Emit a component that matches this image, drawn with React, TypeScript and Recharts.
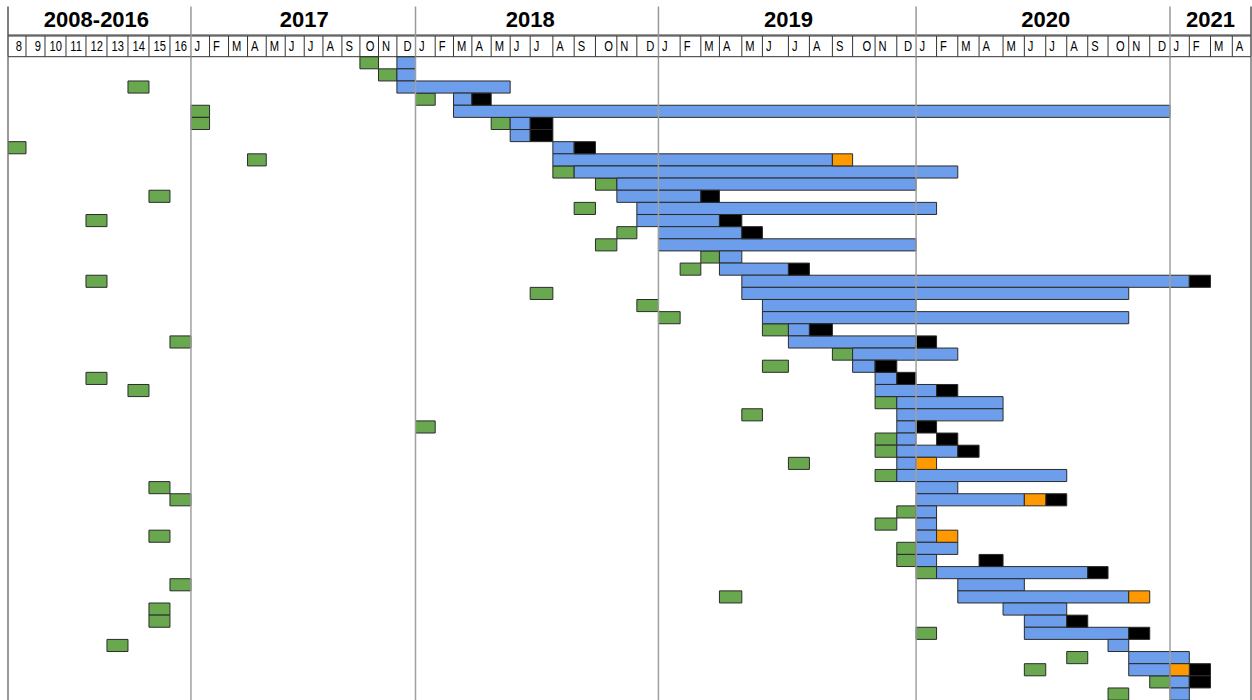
import React from 'react';
import { BarChart, Bar, XAxis, YAxis, ReferenceLine } from 'recharts';

type Span = [number, string, string?];

// header labels
const yearBlocks = ['2008-2016', '2017', '2018', '2019', '2020', '2021'];
const blockColumns = [9, 12, 12, 12, 12, 4];
const earlyYears = ['8', '9', '10', '11', '12', '13', '14', '15', '16'];
const monthLetters = ['J', 'F', 'M', 'A', 'M', 'J', 'J', 'A', 'S', 'O', 'N', 'D'];

const ROWS = 53;

// [row, first month, last month] — years before 2017 are one column each
const green: Span[] = [
  [0, '2017-10'], [1, '2017-11'], [2, '2014'], [3, '2018-01'], [4, '2017-01'],
  [5, '2017-01'], [5, '2018-05'], [7, '2008'], [8, '2017-04'], [9, '2018-08'],
  [10, '2018-10'], [11, '2015'], [12, '2018-09'], [13, '2012'], [14, '2018-11'],
  [15, '2018-10'], [16, '2019-03'], [17, '2019-02'], [18, '2012'], [19, '2018-07'],
  [20, '2018-12'], [21, '2019-01'], [22, '2019-06'], [23, '2016'], [24, '2019-09'],
  [25, '2019-06'], [26, '2012'], [27, '2014'], [28, '2019-11'], [29, '2019-05'],
  [30, '2018-01'], [31, '2019-11'], [32, '2019-11'], [33, '2019-07'], [34, '2019-11'],
  [35, '2015'], [36, '2016'], [37, '2019-12'], [38, '2019-11'], [39, '2015'],
  [40, '2019-12'], [41, '2019-12'], [42, '2020-01'], [43, '2016'], [44, '2019-04'],
  [45, '2015'], [46, '2015'], [47, '2020-01'], [48, '2013'], [49, '2020-08'],
  [50, '2020-06'], [51, '2020-12'], [52, '2020-10'],
];

const blue: Span[] = [
  [0, '2017-12'], [1, '2017-12'], [2, '2017-12', '2018-05'], [3, '2018-03'],
  [4, '2018-03', '2020-12'], [5, '2018-06'], [6, '2018-06'], [7, '2018-08'],
  [8, '2018-08', '2019-08'], [9, '2018-09', '2020-02'], [10, '2018-11', '2019-12'],
  [11, '2018-11', '2019-02'], [12, '2018-12', '2020-01'], [13, '2018-12', '2019-03'],
  [14, '2019-01', '2019-04'], [15, '2019-01', '2019-12'], [16, '2019-04'],
  [17, '2019-04', '2019-06'], [18, '2019-05', '2021-01'], [19, '2019-05', '2020-10'],
  [20, '2019-06', '2019-12'], [21, '2019-06', '2020-10'], [22, '2019-07'],
  [23, '2019-07', '2019-12'], [24, '2019-10', '2020-02'], [25, '2019-10'],
  [26, '2019-11'], [27, '2019-11', '2020-01'], [28, '2019-12', '2020-04'],
  [29, '2019-12', '2020-04'], [30, '2019-12'], [31, '2019-12'],
  [32, '2019-12', '2020-02'], [33, '2019-12'], [34, '2019-12', '2020-07'],
  [35, '2020-01', '2020-02'], [36, '2020-01', '2020-05'], [37, '2020-01'],
  [38, '2020-01'], [39, '2020-01'], [40, '2020-01', '2020-02'], [41, '2020-01'],
  [42, '2020-02', '2020-08'], [43, '2020-03', '2020-05'], [44, '2020-03', '2020-10'],
  [45, '2020-05', '2020-07'], [46, '2020-06', '2020-07'], [47, '2020-06', '2020-10'],
  [48, '2020-10'], [49, '2020-11', '2021-01'], [50, '2020-11', '2020-12'],
  [51, '2021-01'], [52, '2021-01'],
];

const black: Span[] = [
  [3, '2018-04'], [5, '2018-07'], [6, '2018-07'], [7, '2018-09'], [11, '2019-03'],
  [13, '2019-04'], [14, '2019-05'], [17, '2019-07'], [18, '2021-02'], [22, '2019-08'],
  [23, '2020-01'], [25, '2019-11'], [26, '2019-12'], [27, '2020-02'], [30, '2020-01'],
  [31, '2020-02'], [32, '2020-03'], [36, '2020-07'], [41, '2020-04'], [42, '2020-09'],
  [46, '2020-08'], [47, '2020-11'], [50, '2021-02'], [51, '2021-02'],
];

const orange: Span[] = [
  [8, '2019-09'], [33, '2020-01'], [36, '2020-06'], [39, '2020-02'], [44, '2020-11'],
  [50, '2021-01'],
];

// sheet column widths in px (they are not all equal in the original)
const colWidths = [
  18, 19, 21, 20, 21, 21, 21, 21, 21,
  18.6, 19, 19, 18.7, 19, 19, 18.7, 19, 18, 18.6, 18.4, 18.6,
  19.7, 18.3, 18.4, 19.3, 19, 20, 22.7, 21.3, 21.3, 21.4, 20, 21.6,
  21.7, 20.7, 18.6, 22.4, 20.6, 26, 21, 23, 20.2, 22.5, 21.7, 19.3,
  20.5, 21.2, 21.3, 24, 21.3, 21.4, 21, 21, 20.3, 20.7, 21, 20.3,
  19.3, 21.2, 21.8, 18.7,
];

const FONT = '"Liberation Sans", Arial, sans-serif';
const ROW_H = 12.14;
const BAR = ROW_H - 0.04;
const TOP = 5.5;
const YEAR_H = 29.5;
const MONTH_H = 20.7;
const CHART_H = 702;
const PLOT_TOP = TOP + 1 + YEAR_H + MONTH_H;

const columnLabels = [
  ...earlyYears,
  ...monthLetters, ...monthLetters, ...monthLetters, ...monthLetters,
  ...monthLetters.slice(0, 4),
];
const NCOLS = columnLabels.length;
const edges = Array.from({ length: NCOLS + 1 }, (_, i) => i);
const blockStarts = blockColumns.reduce<number[]>((acc, n) => [...acc, acc[acc.length - 1] + n], [0]);
const blockCenters = blockColumns.map((n, i) => blockStarts[i] + n / 2);

const col = (m: string) => {
  const [y, mo = 1] = m.split('-').map(Number);
  return y < 2017 ? y - 2008 : 9 + (y - 2017) * 12 + mo - 1;
};

const table: any[] = Array.from({ length: ROWS }, (_, row) => ({ row }));
const put = (spans: Span[], key: string) =>
  spans.forEach(([row, a, b]) => {
    const k = table[row][key] ? key + '2' : key;
    table[row][k] = [col(a), col(b ?? a) + 1];
  });
put(green, 'green');
put(blue, 'blue');
put(black, 'black');
put(orange, 'orange');

// piecewise linear scale: column index -> pixel, using the sheet widths
function columnScale(widths: number[]): any {
  const cum = [0];
  widths.forEach((w) => cum.push(cum[cum.length - 1] + w));
  const total = cum[cum.length - 1];
  let dom: number[] = [0, widths.length];
  let rng: number[] = [0, total];
  const s: any = (v: any) => {
    if (v == null || Number.isNaN(+v)) return undefined;
    const i = Math.max(0, Math.min(widths.length - 1, Math.floor(+v)));
    const pos = cum[i] + (+v - i) * widths[i];
    return rng[0] + (pos / total) * (rng[1] - rng[0]);
  };
  s.domain = (d?: number[]) => (d ? ((dom = [...d]), s) : [...dom]);
  s.range = (r?: number[]) => (r ? ((rng = [...r]), s) : [...rng]);
  s.copy = () => columnScale(widths).domain(dom).range(rng);
  s.ticks = () => cum.map((_, i) => i);
  s.tickFormat = () => (v: any) => String(v);
  s.invert = (px: number) => {
    const pos = ((px - rng[0]) / (rng[1] - rng[0])) * total;
    let i = 0;
    while (i < widths.length - 1 && cum[i + 1] <= pos) i++;
    return i + (pos - cum[i]) / widths[i];
  };
  return s;
}
const xScale = columnScale(colWidths);

const rightAligned = (t: string) => /\d/.test(t) || t === 'O' || t === 'D';

const cellText = (key: string, text: string, x: number, y: number, anchor: 'start' | 'end') => (
  <text
    key={key}
    transform={`translate(${x},${y}) scale(0.8,1)`}
    textAnchor={anchor}
    fontSize={14}
    fontFamily={FONT}
    fill="#000"
  >
    {text}
  </text>
);

const MonthTick = (props: any) => {
  const { x, y, payload } = props;
  const i = payload.value as number;
  const tall = blockStarts.includes(i);
  const edge = i === 0 || i === NCOLS;
  const parts: React.ReactNode[] = [
    <line
      key="l"
      x1={x}
      x2={x}
      y1={y - (tall ? MONTH_H + YEAR_H : MONTH_H)}
      y2={y}
      stroke={edge ? '#555' : tall ? '#999' : '#333'}
      strokeWidth={tall ? 1.5 : 1}
    />,
  ];
  if (i < NCOLS && !rightAligned(columnLabels[i])) parts.push(cellText('s', columnLabels[i], x + 3.5, y - 5.7, 'start'));
  if (i > 0 && rightAligned(columnLabels[i - 1])) parts.push(cellText('e', columnLabels[i - 1], x - 4, y - 5.7, 'end'));
  return <g>{parts}</g>;
};

const YearTick = (props: any) => {
  const { x, y, index } = props;
  return (
    <text x={x} y={y - 7.7} textAnchor="middle" fontSize={22} fontWeight="bold" fontFamily={FONT} fill="#000">
      {yearBlocks[index]}
    </text>
  );
};

const bars = [
  { key: 'green', fill: '#6aa84f' },
  { key: 'green2', fill: '#6aa84f' },
  { key: 'blue', fill: '#6d9eeb' },
  { key: 'black', fill: '#000000' },
  { key: 'orange', fill: '#ff9900' },
];

const App: React.FC = () => {
  const bottom = CHART_H - PLOT_TOP - ROWS * ROW_H;
  return (
    <div style={{ position: 'absolute', left: 0, top: 0, background: '#fff' }}>
      <BarChart
        width={1252}
        height={CHART_H}
        data={table}
        layout="vertical"
        margin={{ top: TOP, right: 1, bottom, left: 8 }}
        barCategoryGap={0}
        barSize={BAR}
        barGap={-BAR}
      >
        <XAxis
          xAxisId="m"
          type="number"
          orientation="top"
          domain={[0, NCOLS]}
          allowDataOverflow
          scale={xScale}
          ticks={edges}
          interval={0}
          tick={(p: any) => <MonthTick {...p} />}
          tickLine={false}
          tickSize={0}
          tickMargin={0}
          height={MONTH_H}
          axisLine={{ stroke: '#333' }}
        />
        <XAxis
          xAxisId="y"
          type="number"
          orientation="top"
          domain={[0, NCOLS]}
          allowDataOverflow
          scale={xScale}
          ticks={blockCenters}
          interval={0}
          tick={(p: any) => <YearTick {...p} />}
          tickLine={false}
          tickSize={0}
          tickMargin={0}
          height={YEAR_H}
          axisLine={{ stroke: '#333' }}
        />
        <XAxis
          xAxisId="t"
          type="number"
          orientation="top"
          domain={[0, NCOLS]}
          allowDataOverflow
          scale={xScale}
          ticks={[]}
          tick={false}
          tickLine={false}
          height={1}
          axisLine={{ stroke: '#333' }}
        />
        <YAxis type="category" dataKey="row" hide />
        {blockStarts.map((v) => (
          <ReferenceLine
            key={v}
            xAxisId="m"
            x={v}
            stroke={v === 0 || v === NCOLS ? '#777' : '#a0a0a0'}
            strokeWidth={1.5}
          />
        ))}
        {bars.map((b) => (
          <Bar
            key={b.key}
            xAxisId="m"
            dataKey={b.key}
            fill={b.fill}
            stroke="#2b2b2b"
            strokeWidth={1}
            isAnimationActive={false}
          />
        ))}
      </BarChart>
    </div>
  );
};

export default App;
